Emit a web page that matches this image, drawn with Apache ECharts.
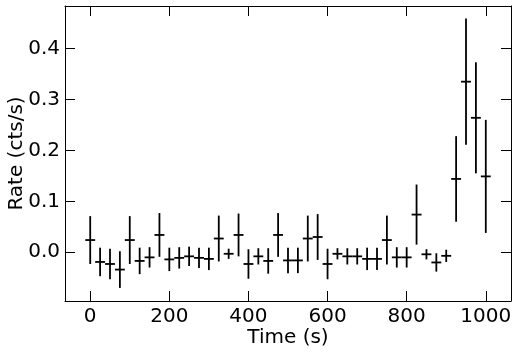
<!DOCTYPE html>
<html><head><meta charset="utf-8">
<script src="https://cdn.jsdelivr.net/npm/echarts@6/dist/echarts.min.js"></script>
<style>html,body{margin:0;padding:0;background:#fff}#c{width:518px;height:354px}</style>
</head><body><div id="c"></div>
<script>
var times = [0,25,50,75,100,125,150,175,200,225,250,275,300,325,350,375,400,425,450,475,500,525,550,575,600,625,650,675,700,725,750,775,800,825,850,875,900,925,950,975,1000];
var rates = [0.024,-0.019,-0.023,-0.034,0.024,-0.017,-0.010,0.034,-0.014,-0.011,-0.008,-0.011,-0.013,0.027,-0.003,0.034,-0.023,-0.008,-0.017,0.034,-0.016,-0.016,0.027,0.030,-0.023,-0.003,-0.008,-0.008,-0.013,-0.013,0.024,-0.010,-0.010,0.074,-0.004,-0.020,-0.007,0.144,0.335,0.264,0.149];
var errors = [0.047,0.028,0.030,0.036,0.047,0.026,0.020,0.043,0.023,0.021,0.019,0.020,0.022,0.045,0.010,0.042,0.029,0.016,0.025,0.043,0.025,0.025,0.045,0.045,0.030,0.011,0.016,0.016,0.022,0.022,0.048,0.020,0.020,0.059,0.010,0.018,0.012,0.084,0.124,0.109,0.111];
var binHalfWidth = 12.5;
var xTicks = [0,200,400,600,800,1000];
var yTicks = [0,0.1,0.2,0.3,0.4];
var xLabel = 'Time (s)';
var yLabel = 'Rate (cts/s)';

var data = times.map(function(t,i){return [t, rates[i], errors[i]];});
var font = 'DejaVu Sans';
var chart = echarts.init(document.getElementById('c'), null, {renderer:'canvas'});
function xAx(pos, show){
  return {type:'value', position:pos, min:-63.75, max:1063.75,
    axisLine:{show:true, onZero:false, lineStyle:{color:'#000', width:1}},
    axisTick:{show:true, inside:true, length:10, customValues:xTicks, lineStyle:{color:'#000', width:1}},
    axisLabel:{show:show, margin:6, customValues:xTicks, color:'#000', fontFamily:font, fontSize:20,
      formatter:function(v){return String(v);}},
    splitLine:{show:false},
    name: show? xLabel : '', nameLocation:'middle', nameGap:27, nameMoveOverlap:false,
    nameTextStyle:{color:'#000', fontFamily:font, fontSize:20, verticalAlign:'top'}};
}
function yAx(pos, show){
  return {type:'value', position:pos, min:-0.0957, max:0.4836,
    axisLine:{show:true, onZero:false, lineStyle:{color:'#000', width:1}},
    axisTick:{show:true, inside:true, length:10, customValues:yTicks, lineStyle:{color:'#000', width:1}},
    axisLabel:{show:show, margin:5, customValues:yTicks, color:'#000', fontFamily:font, fontSize:20,
      formatter:function(v){return v.toFixed(1);}},
    splitLine:{show:false},
    name: show? yLabel : '', nameLocation:'middle', nameGap:38, nameMoveOverlap:false,
    nameTextStyle:{color:'#000', fontFamily:font, fontSize:20}};
}
chart.setOption({
  animation:false,
  grid:{left:65, right:7, top:6, bottom:53, containLabel:false, outerBoundsMode:'none'},
  xAxis:[xAx('bottom', true), xAx('top', false)],
  yAxis:[yAx('left', true), yAx('right', false)],
  series:[{
    type:'custom', xAxisIndex:0, yAxisIndex:0,
    data:data,
    renderItem:function(params, api){
      var t=api.value(0), v=api.value(1), e=api.value(2);
      var top=api.coord([t, v+e]), bot=api.coord([t, v-e]);
      var l=api.coord([t-binHalfWidth, v]), r=api.coord([t+binHalfWidth, v]);
      var st={stroke:'#000', lineWidth:1.8};
      return {type:'group', children:[
        {type:'line', shape:{x1:top[0], y1:top[1], x2:bot[0], y2:bot[1]}, style:st},
        {type:'line', shape:{x1:l[0], y1:l[1], x2:r[0], y2:r[1]}, style:st}
      ]};
    }
  }]
});
</script></body></html>
